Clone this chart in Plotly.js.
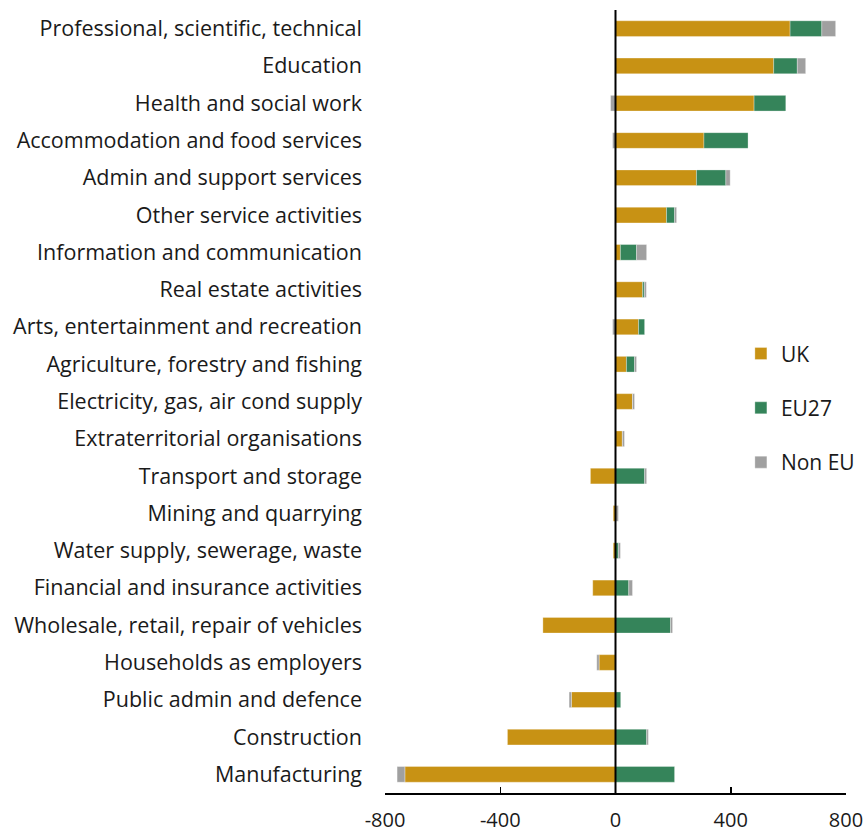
<!DOCTYPE html>
<html>
<head>
<meta charset="utf-8">
<script src="https://cdn.plot.ly/plotly-3.0.1.min.js"></script>
<style>html,body{margin:0;padding:0;background:#fff;}#chart{width:867px;height:837px;}</style>
</head>
<body>
<div id="chart"></div>
<script>
const categories = [
  "Professional, scientific, technical",
  "Education",
  "Health and social work",
  "Accommodation and food services",
  "Admin and support services",
  "Other service activities",
  "Information and communication",
  "Real estate activities",
  "Arts, entertainment and recreation",
  "Agriculture, forestry and fishing",
  "Electricity, gas, air cond supply",
  "Extraterritorial organisations",
  "Transport and storage",
  "Mining and quarrying",
  "Water supply, sewerage, waste",
  "Financial and insurance activities",
  "Wholesale, retail, repair of vehicles",
  "Households as employers",
  "Public admin and defence",
  "Construction",
  "Manufacturing"
];
const ukValues    = [606, 549, 481, 307, 281, 177, 17, 94, 80, 38, 59, 24, -87, -8, -8, -79, -252, -57, -153, -375, -731];
const eu27Values  = [110, 82, 110, 153, 102, 28, 56, 6, 21, 28, 0, 0, 101, 0, 10, 46, 191, 0, 18, 108, 205];
const nonEuValues = [48, 29, -17, -10, 15, 7, 35, 7, -10, 7, 7, 7, 7, 10, 7, 13, 7, -8, -8, 6, -27];
const xTicks = [-800, -400, 0, 400, 800];

const family = "Open Sans, Noto Sans, sans-serif";
const edge = {color: "rgba(255,255,255,0.5)", width: 0.6};

const traces = [
  {name: "UK", x: ukValues, color: "#C89214"},
  {name: "EU27", x: eu27Values, color: "#35845A"},
  {name: "Non EU", x: nonEuValues, color: "#A0A0A0"}
].map((s, i) => ({
  type: "bar",
  orientation: "h",
  name: s.name,
  x: s.x,
  y: categories,
  width: 0.42,
  legendgroup: "g" + i,
  marker: {color: s.color, line: edge},
  hoverinfo: "x+y+name"
}));

const layout = {
  width: 867,
  height: 837,
  margin: {l: 385, r: 21, t: 10, b: 44, autoexpand: false},
  paper_bgcolor: "#fff",
  plot_bgcolor: "#fff",
  barmode: "relative",
  font: {family: family, size: 20, color: "#1a1a1a"},
  showlegend: true,
  legend: {
    x: 0.772, xanchor: "left",
    y: 0.587, yanchor: "top",
    traceorder: "grouped",
    tracegroupgap: 24,
    font: {family: family, size: 21, color: "#1a1a1a"},
    bgcolor: "rgba(0,0,0,0)"
  },
  xaxis: {
    range: [-800, 800],
    tickvals: xTicks,
    ticktext: xTicks.map(String),
    showgrid: false,
    zeroline: false,
    showline: true,
    linecolor: "#000",
    linewidth: 1.5,
    ticks: "inside",
    ticklen: 6,
    tickwidth: 1.5,
    tickcolor: "#000",
    ticklabelstandoff: 8,
    tickfont: {family: family, size: 20, color: "#1a1a1a"},
    fixedrange: true
  },
  yaxis: {
    type: "category",
    categoryorder: "array",
    categoryarray: categories,
    autorange: "reversed",
    showgrid: false,
    zeroline: false,
    showline: false,
    ticks: "",
    ticklabelstandoff: 22,
    tickfont: {family: family, size: 21.5, color: "#1a1a1a"},
    fixedrange: true
  },
  shapes: [{
    type: "line", layer: "above",
    xref: "x", yref: "paper",
    x0: 0, x1: 0, y0: 0, y1: 1.0,
    line: {color: "#000", width: 2}
  }]
};

Plotly.newPlot("chart", traces, layout, {displayModeBar: false, staticPlot: true});
</script>
</body>
</html>
